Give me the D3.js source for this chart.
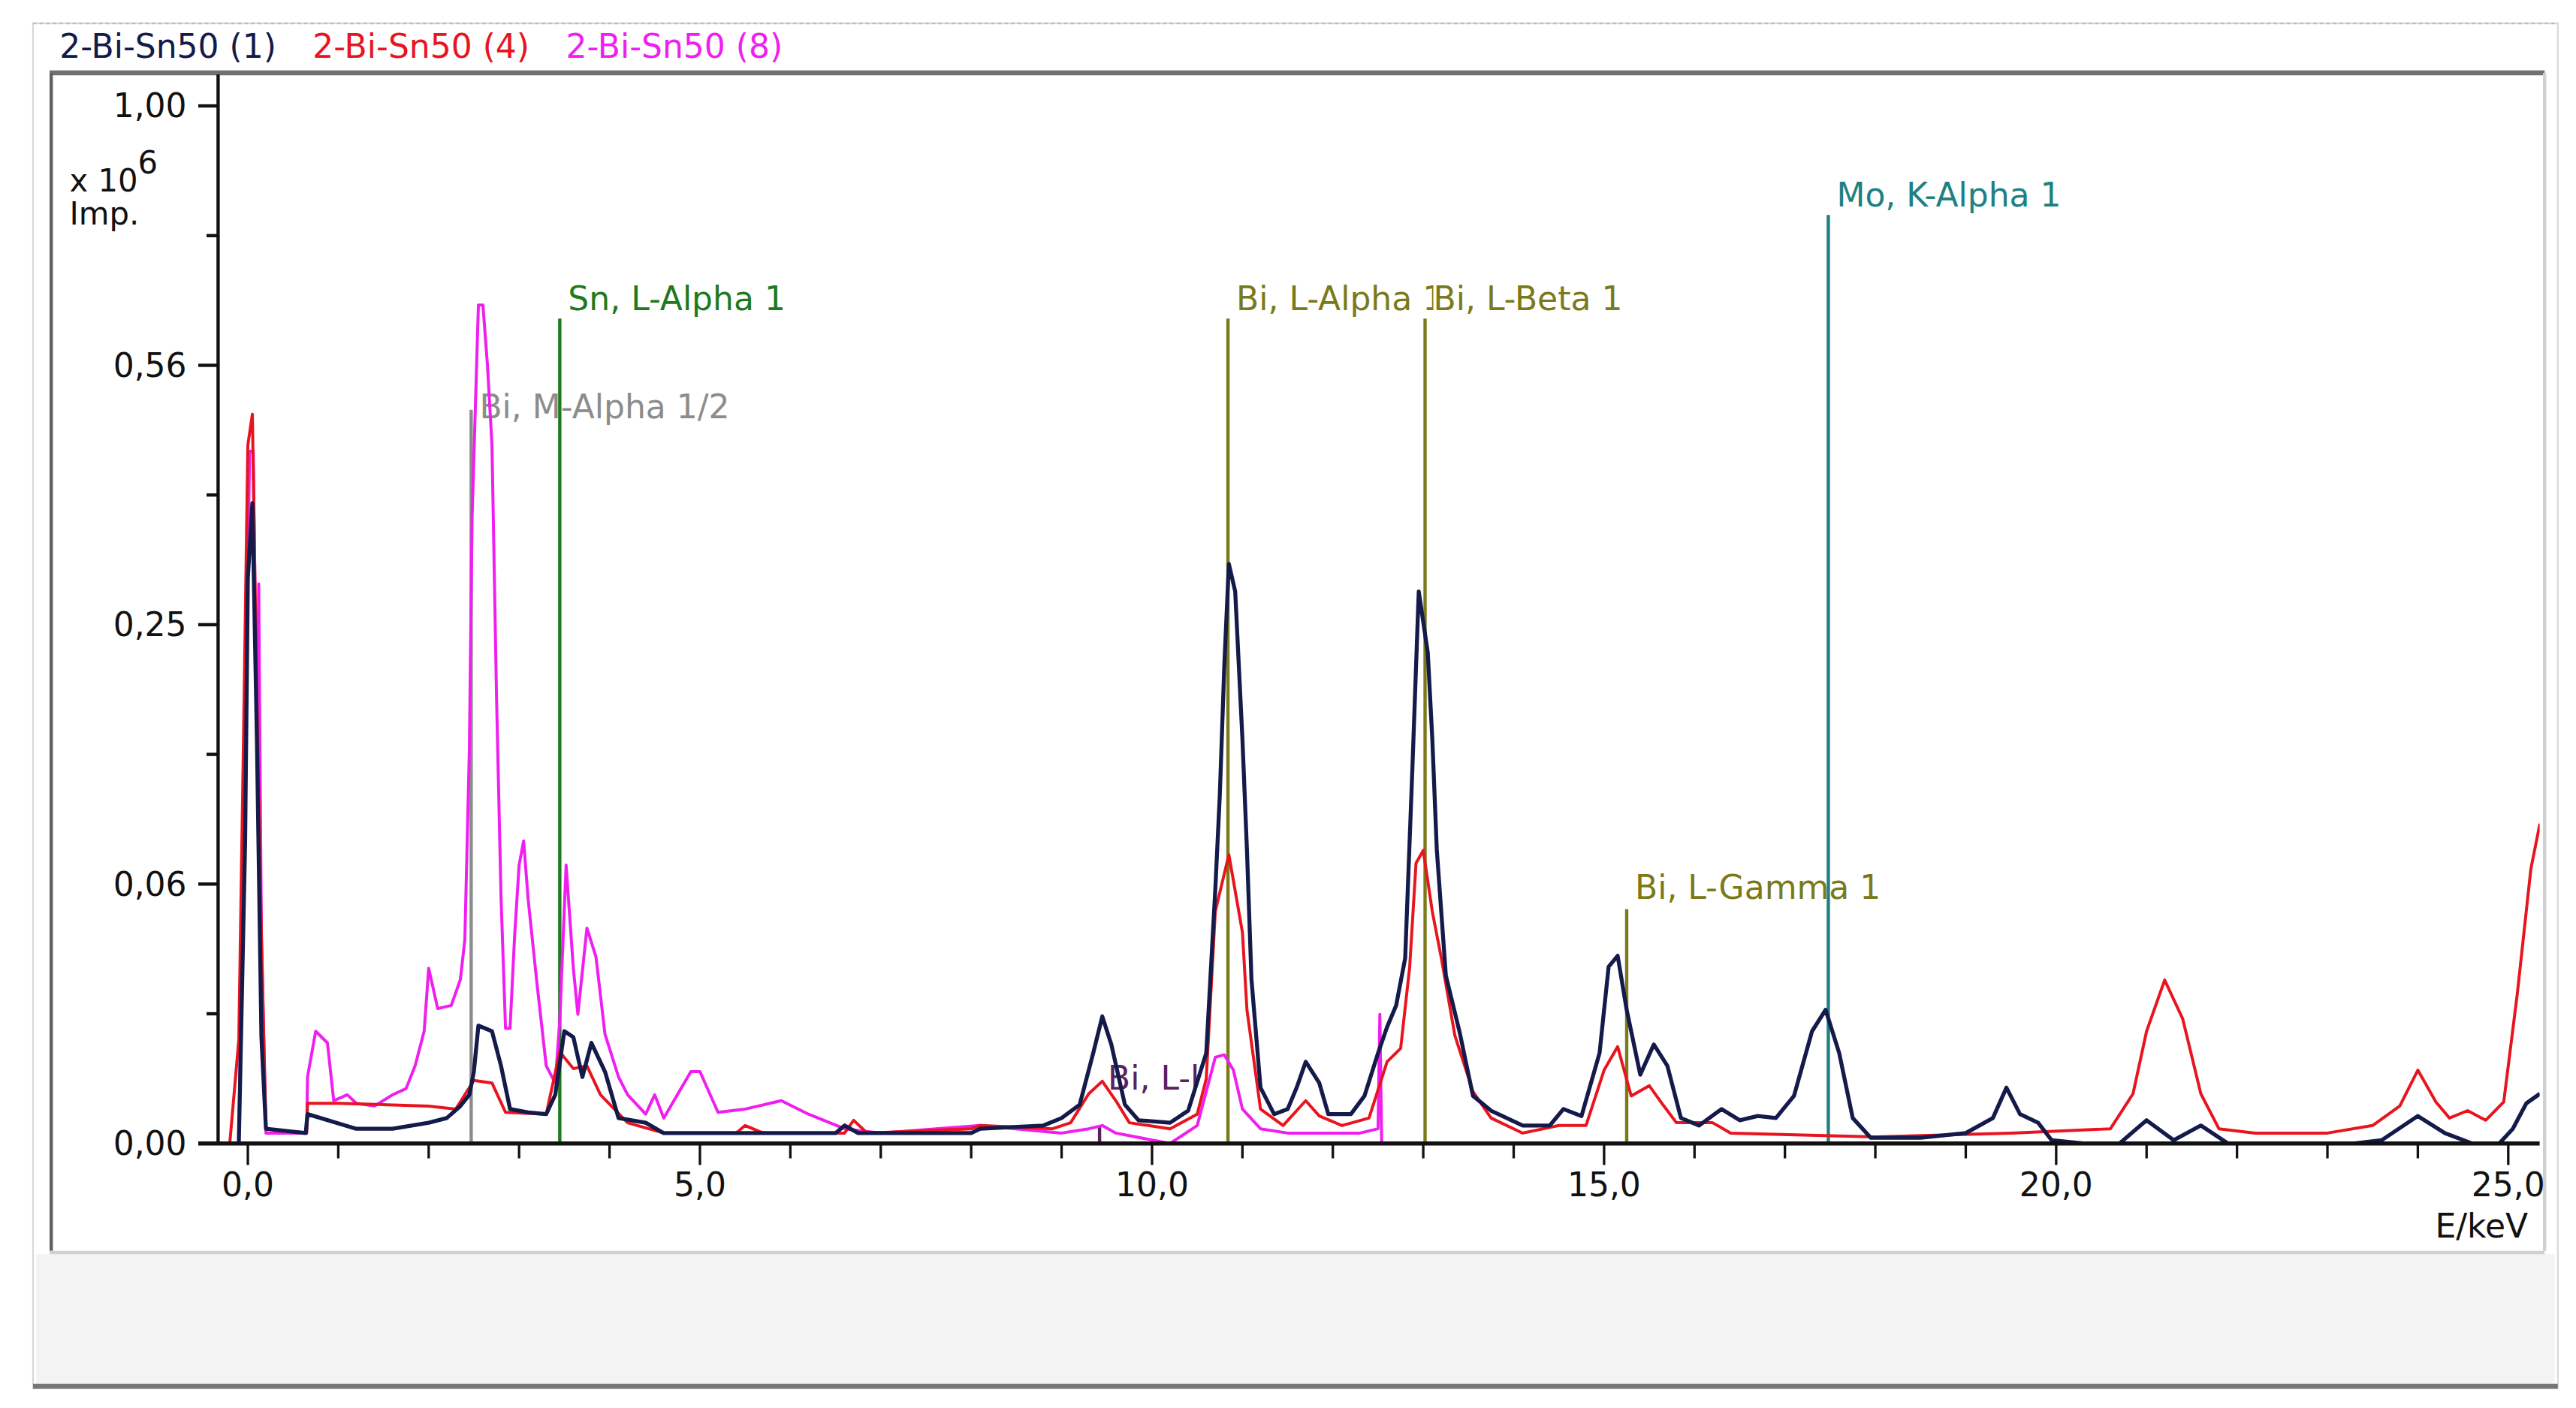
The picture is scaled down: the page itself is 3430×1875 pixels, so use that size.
<!DOCTYPE html>
<html>
<head>
<meta charset="utf-8">
<script src="https://cdn.jsdelivr.net/npm/d3@7"></script>
<style>
  html, body { margin: 0; padding: 0; background: #fff; }
  svg { display: block; font-family: "DejaVu Sans", Verdana, sans-serif; }
</style>
</head>
<body>
<div id="chart"></div>
<script>
// Series names and spectra (E in keV, counts in 10^6 Imp.)
const seriesNames = ["2-Bi-Sn50 (1)", "2-Bi-Sn50 (4)", "2-Bi-Sn50 (8)"];
const seriesColors = ["#141a4a", "#e8141e", "#f01ef0"];

const spec1 = [[-0.2,0],[-0.1,0],[-0.03,0.085],[0,0.297],[0.05,0.381],[0.1,0.152],[0.15,0.0105],[0.2,0.0002],[0.64,0.0001],[0.66,0.0008],[1.2,0.0002],[1.6,0.0002],[2.0,0.0004],[2.2,0.0006],[2.35,0.0013],[2.45,0.0022],[2.5,0.0048],[2.55,0.0129],[2.7,0.0117],[2.8,0.0056],[2.9,0.0011],[3.1,0.0009],[3.3,0.0008],[3.4,0.0022],[3.5,0.0117],[3.6,0.0105],[3.7,0.0041],[3.8,0.0094],[3.95,0.0048],[4.1,0.0006],[4.4,0.0004],[4.6,0.0001],[6.5,0.0001],[6.6,0.0003],[6.75,0.0001],[8.0,0.0001],[8.1,0.0002],[8.8,0.0003],[9.0,0.0006],[9.2,0.0014],[9.35,0.0076],[9.45,0.015],[9.55,0.0091],[9.7,0.0014],[9.85,0.0005],[10.2,0.0004],[10.4,0.001],[10.6,0.0076],[10.7,0.06],[10.75,0.113],[10.8,0.213],[10.85,0.312],[10.92,0.283],[11.0,0.152],[11.05,0.08],[11.1,0.025],[11.2,0.0029],[11.35,0.0008],[11.5,0.0011],[11.6,0.0029],[11.7,0.0062],[11.85,0.0034],[11.95,0.0008],[12.2,0.0008],[12.35,0.0021],[12.5,0.0076],[12.6,0.0126],[12.7,0.0177],[12.8,0.0319],[12.88,0.131],[12.95,0.283],[13.05,0.224],[13.1,0.152],[13.15,0.08],[13.25,0.0262],[13.4,0.0117],[13.55,0.0021],[13.75,0.001],[14.1,0.0003],[14.4,0.0003],[14.55,0.0011],[14.75,0.0007],[14.95,0.0076],[15.05,0.029],[15.15,0.0327],[15.25,0.0166],[15.4,0.0044],[15.55,0.0091],[15.7,0.0056],[15.85,0.0006],[16.05,0.0003],[16.3,0.0011],[16.5,0.0005],[16.7,0.0007],[16.9,0.0006],[17.1,0.0021],[17.3,0.0117],[17.45,0.0166],[17.6,0.0076],[17.75,0.0006],[17.95,0.00003],[18.5,0.00003],[19.0,0.0001],[19.3,0.0006],[19.45,0.0029],[19.6,0.0008],[19.8,0.0004],[19.95,0.00001],[20.3,0],[20.7,0],[21.0,0.0005],[21.3,0.00001],[21.6,0.0003],[21.9,0],[23.3,0],[23.6,0.00001],[24.0,0.0007],[24.3,0.0001],[24.6,0],[24.9,0],[25.05,0.0002],[25.2,0.0015],[25.35,0.0023]];

const spec4 = [[-0.2,0],[-0.1,0.01],[-0.05,0.144],[0,0.453],[0.05,0.494],[0.1,0.18],[0.15,0.041],[0.2,0.0002],[0.65,0.0001],[0.66,0.0015],[1.0,0.0015],[2.0,0.0013],[2.3,0.0011],[2.5,0.0037],[2.7,0.0034],[2.85,0.0009],[3.3,0.0008],[3.45,0.0078],[3.6,0.0052],[3.75,0.0056],[3.9,0.0022],[4.2,0.0004],[4.6,0.0001],[5.4,0.0001],[5.5,0.0003],[5.7,0.0001],[6.6,0.0001],[6.7,0.0005],[6.85,0.0001],[8.0,0.0002],[8.1,0.0003],[8.9,0.0002],[9.1,0.0004],[9.3,0.0023],[9.45,0.0036],[9.6,0.0017],[9.75,0.0004],[10.2,0.0002],[10.5,0.0008],[10.6,0.0039],[10.7,0.05],[10.85,0.0775],[11.0,0.0414],[11.05,0.0166],[11.2,0.0011],[11.45,0.0003],[11.7,0.0017],[11.85,0.0007],[12.1,0.0003],[12.4,0.0006],[12.6,0.0062],[12.75,0.0084],[12.85,0.029],[12.92,0.073],[13.0,0.0798],[13.1,0.05],[13.2,0.0319],[13.35,0.0108],[13.55,0.0025],[13.75,0.0006],[14.1,0.0001],[14.5,0.0003],[14.8,0.0003],[15.0,0.005],[15.15,0.0087],[15.3,0.0021],[15.5,0.0031],[15.65,0.0014],[15.8,0.0004],[16.2,0.0004],[16.4,0.0001],[18.0,0.00004],[19.5,0.0001],[20.6,0.0002],[20.85,0.0023],[21.0,0.0117],[21.2,0.0248],[21.4,0.0144],[21.6,0.0023],[21.8,0.0002],[22.2,0.0001],[23.0,0.0001],[23.5,0.0003],[23.8,0.0013],[24.0,0.005],[24.2,0.0016],[24.35,0.0006],[24.55,0.001],[24.75,0.0005],[24.95,0.0016],[25.1,0.0208],[25.25,0.07],[25.35,0.095]];

const spec8 = [[-0.2,0],[-0.1,0],[-0.05,0.085],[0.02,0.445],[0.06,0.445],[0.1,0.148],[0.12,0.291],[0.15,0.039],[0.2,0.0001],[0.65,0.0001],[0.66,0.0041],[0.75,0.0117],[0.88,0.0094],[0.95,0.0017],[1.1,0.0022],[1.2,0.0015],[1.4,0.0013],[1.6,0.0022],[1.75,0.0028],[1.85,0.0056],[1.95,0.0117],[2.0,0.0285],[2.1,0.0169],[2.25,0.0177],[2.35,0.0249],[2.4,0.0386],[2.45,0.144],[2.48,0.364],[2.55,0.653],[2.6,0.653],[2.65,0.563],[2.7,0.453],[2.75,0.187],[2.8,0.0567],[2.85,0.0123],[2.9,0.0123],[2.95,0.0397],[3.0,0.072],[3.05,0.085],[3.1,0.0554],[3.2,0.0232],[3.3,0.0056],[3.4,0.0034],[3.45,0.0142],[3.52,0.072],[3.6,0.0285],[3.65,0.0155],[3.75,0.0431],[3.85,0.0324],[3.95,0.0111],[4.1,0.0041],[4.2,0.0022],[4.4,0.0008],[4.5,0.0022],[4.6,0.0006],[4.9,0.0048],[5.0,0.0048],[5.2,0.0009],[5.5,0.0011],[5.9,0.0017],[6.2,0.0008],[6.6,0.0002],[7.0,0.0001],[8.1,0.0003],[9.0,0.0001],[9.3,0.0002],[9.45,0.0003],[9.6,0.0001],[10.2,0],[10.5,0.0003],[10.7,0.0069],[10.8,0.0073],[10.9,0.005],[11.0,0.0011],[11.2,0.0002],[11.5,0.0001],[12.3,0.0001],[12.5,0.0002],[12.52,0.0155],[12.54,0]];

const spectra = [spec1, spec4, spec8];

// Element line markers
const markerLabels = ["Bi, M-Alpha 1/2", "Sn, L-Alpha 1", "Bi, L-l", "Bi, L-Alpha 1", "Bi, L-Beta 1", "Bi, L-Gamma 1", "Mo, K-Alpha 1"];
const markerEnergy = [2.47, 3.45, 9.42, 10.84, 13.02, 15.25, 17.48];
const markerTop = [0.50, 0.632, 0.0003, 0.632, 0.632, 0.051, 0.801];
const markerLabelAt = [0.484, 0.64, 0.0024, 0.64, 0.64, 0.054, 0.81];
const markerColors = ["#8c8c8c", "#1e7a1e", "#5a2060", "#7a7a1a", "#7a7a1a", "#7a7a1a", "#1e8080"];

// Axis ticks
const yTicks = [0, 0.0625, 0.25, 0.5625, 1];
const yTickLabels = ["0,00", "0,06", "0,25", "0,56", "1,00"];
const yMinor = [0.015625, 0.140625, 0.390625, 0.765625];
const xTicks = [0, 5, 10, 15, 20, 25];
const xTickLabels = ["0,0", "5,0", "10,0", "15,0", "20,0", "25,0"];
const xMinor = d3.range(0, 26);

const W = 1559, H = 852;
const plot = { left: 132, right: 1537, top: 45, bottom: 692 };
const FS = 20;

const svg = d3.select("#chart").append("svg")
  .attr("width", 3430).attr("height", 1875)
  .attr("viewBox", `0 0 ${W} ${H}`);

// Window frame
svg.append("rect").attr("x", 20).attr("y", 14).attr("width", 1528).attr("height", 826)
  .attr("fill", "#fff").attr("stroke", "#d8d8d8");
svg.append("line").attr("x1", 20).attr("x2", 1548).attr("y1", 14).attr("y2", 14)
  .attr("stroke", "#bbb").attr("stroke-dasharray", "2,2");
svg.append("rect").attr("x", 22).attr("y", 759).attr("width", 1524).attr("height", 79)
  .attr("fill", "#f3f3f3");
svg.append("line").attr("x1", 20).attr("x2", 1548).attr("y1", 839).attr("y2", 839)
  .attr("stroke", "#777").attr("stroke-width", 3);
svg.append("line").attr("x1", 30).attr("x2", 1540).attr("y1", 44).attr("y2", 44)
  .attr("stroke", "#707070").attr("stroke-width", 3);
svg.append("line").attr("x1", 31).attr("x2", 31).attr("y1", 44).attr("y2", 757)
  .attr("stroke", "#606060").attr("stroke-width", 2);
svg.append("line").attr("x1", 1540).attr("x2", 1540).attr("y1", 44).attr("y2", 757)
  .attr("stroke", "#d0d0d0").attr("stroke-width", 2);
svg.append("line").attr("x1", 30).attr("x2", 1540).attr("y1", 758).attr("y2", 758)
  .attr("stroke", "#d0d0d0").attr("stroke-width", 2);

// Legend
let lx = 36;
seriesNames.forEach((n, i) => {
  const t = svg.append("text").attr("x", lx).attr("y", 35)
    .attr("font-size", FS).attr("fill", seriesColors[i]).text(n);
  lx += t.node().getComputedTextLength() + 22;
});

// Scales
const x = d3.scaleLinear().domain([0, 25]).range([150, 1518]);
const y = d3.scaleSqrt().domain([0, 1]).range([plot.bottom, 64]);

svg.append("clipPath").attr("id", "clip").append("rect")
  .attr("x", plot.left).attr("y", plot.top).attr("width", plot.right - plot.left).attr("height", plot.bottom - plot.top);

// Marker lines
const mg = svg.append("g");
markerLabels.forEach((lab, i) => {
  mg.append("line")
    .attr("x1", x(markerEnergy[i])).attr("x2", x(markerEnergy[i]))
    .attr("y1", y(0)).attr("y2", y(markerTop[i]))
    .attr("stroke", markerColors[i]).attr("stroke-width", 2);
});

// Spectra (drawn magenta first, navy on top)
const line = d3.line().x(d => x(d[0])).y(d => y(Math.max(0, d[1])));
const sg = svg.append("g").attr("clip-path", "url(#clip)");
[2, 1, 0].forEach(i => {
  sg.append("path").datum(spectra[i])
    .attr("fill", "none").attr("stroke", seriesColors[i])
    .attr("stroke-width", i === 0 ? 2.4 : 1.8)
    .attr("stroke-linejoin", "round")
    .attr("d", line);
});

// Marker labels
markerLabels.forEach((lab, i) => {
  const ly = y(markerLabelAt[i]) - 2;
  const t = mg.append("text").attr("x", x(markerEnergy[i]) + 5).attr("y", ly)
    .attr("font-size", FS).attr("fill", markerColors[i]).text(lab);
  if (lab === "Bi, L-Beta 1") {
    const b = t.node().getBBox();
    mg.insert("rect", () => t.node()).attr("x", b.x).attr("y", b.y).attr("width", b.width).attr("height", b.height)
      .attr("fill", "#fff");
  }
});

// Axes
const ag = svg.append("g").attr("stroke", "#111");
ag.append("line").attr("x1", plot.left).attr("x2", plot.left).attr("y1", plot.top).attr("y2", plot.bottom)
  .attr("stroke-width", 2);
ag.append("line").attr("x1", 120).attr("x2", plot.right).attr("y1", plot.bottom).attr("y2", plot.bottom)
  .attr("stroke-width", 2.5);
yTicks.forEach((v, i) => {
  ag.append("line").attr("x1", 120).attr("x2", plot.left).attr("y1", y(v)).attr("y2", y(v)).attr("stroke-width", 2);
  svg.append("text").attr("x", 113).attr("y", y(v) + 7).attr("text-anchor", "end")
    .attr("font-size", FS).attr("fill", "#111").text(yTickLabels[i]);
});
yMinor.forEach(v => {
  ag.append("line").attr("x1", 125).attr("x2", plot.left).attr("y1", y(v)).attr("y2", y(v)).attr("stroke-width", 2);
});
xMinor.forEach(v => {
  ag.append("line").attr("x1", x(v)).attr("x2", x(v)).attr("y1", plot.bottom).attr("y2", plot.bottom + (v % 5 === 0 ? 13 : 9))
    .attr("stroke-width", 1.5);
});
xTicks.forEach((v, i) => {
  svg.append("text").attr("x", x(v)).attr("y", 724).attr("text-anchor", "middle")
    .attr("font-size", FS).attr("fill", "#111").text(xTickLabels[i]);
});
svg.append("text").attr("x", 1530).attr("y", 749).attr("text-anchor", "end")
  .attr("font-size", FS).attr("fill", "#111").text("E/keV");

// Y unit
const yu = svg.append("text").attr("x", 42).attr("y", 116).attr("font-size", 19).attr("fill", "#111");
yu.append("tspan").text("x 10");
yu.append("tspan").attr("dy", -11).text("6");
svg.append("text").attr("x", 42).attr("y", 136).attr("font-size", 19).attr("fill", "#111").text("Imp.");
</script>
</body>
</html>
